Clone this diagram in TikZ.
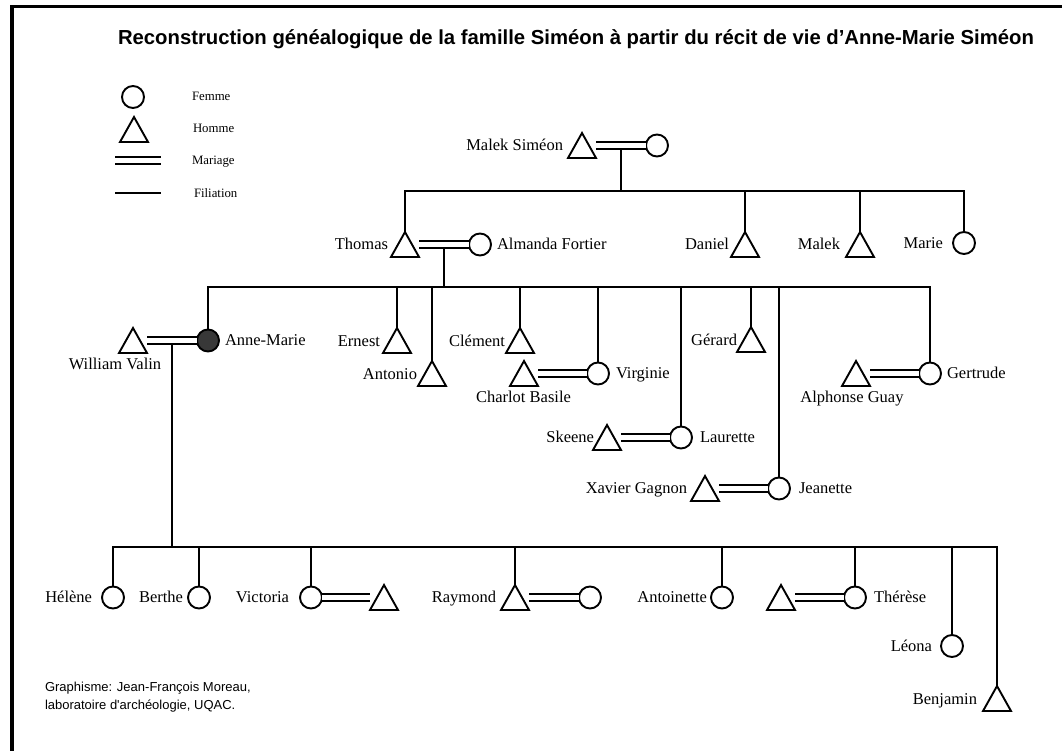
\documentclass[tikz,border=0pt]{standalone}
\usepackage{fontspec}
\setmainfont{Liberation Serif}
\newfontfamily\arialfont{Liberation Sans}
\usetikzlibrary{calc}
\begin{document}
\begin{tikzpicture}[x=1pt,y=-1pt,
  every node/.style={inner sep=0pt, outer sep=0pt},
  lab/.style={font=\fontsize{16.5}{18}\selectfont, text height=10.9pt, text depth=0pt},
  leg/.style={font=\fontsize{12.8}{14}\selectfont, text height=8.4pt, text depth=0pt, anchor=west},
  cred/.style={font=\arialfont\fontsize{13}{15}\selectfont, text height=9.4pt, text depth=0pt, anchor=west},
  fem/.style={circle, draw, line width=1.9pt, minimum size=22pt},
  ego/.style={fem, fill=black!78},
  hom/.style={rectangle, minimum width=28pt, minimum height=25pt},
  tri/.style={line width=1.9pt, line join=miter},
  mar/.style={double, double distance=5.1pt, line width=1.9pt},
  fil/.style={line width=1.9pt},
  frame/.style={line width=3.5pt, line join=miter}]
\useasboundingbox (0,0) rectangle (1064,751);
\fill[white] (0,0) rectangle (1064,751);
% frame
\coordinate (fa) at (12,751);
\coordinate (fb) at (12,6.5);
\coordinate (fc) at (1062,6.5);
\draw[frame] (fa) -- (fb) -- (fc);
% title
\node[anchor=base west, font=\arialfont\bfseries\fontsize{20.3}{24}\selectfont] (title) at (118,45)
  {Reconstruction généalogique de la famille Siméon à partir du récit de vie d’Anne-Marie Siméon};
% legend
\node[fem] (lgf) at (133,97) {};
\node[hom] (lgh) at (134,129.5) {};
\coordinate (lgm1) at (115,160.5);
\coordinate (lgm2) at (161,160.5);
\draw[mar] (lgm1) -- (lgm2);
\coordinate (lgf1) at (115,193);
\coordinate (lgf2) at (161,193);
\draw[fil] (lgf1) -- (lgf2);
\node[leg] (tf) at (192,96) {Femme};
\node[leg] (th) at (193,128) {Homme};
\node[leg] (tm) at (192,160) {Mariage};
\node[leg] (tfi) at (194,193) {Filiation};
% generation 0
\node[hom] (malek0) at (582,145.5) {};
\node[fem] (wife0) at (657,145.5) {};
\node[lab, anchor=east] (lmalek0) at (563,145) {Malek Siméon};
% generation 1
\node[hom] (thomas) at (405,244.5) {};
\node[fem] (almanda) at (480,244.5) {};
\node[hom] (daniel) at (745,244.5) {};
\node[hom] (malek1) at (860,244.5) {};
\node[fem] (marie) at (964,243) {};
\node[lab, anchor=east] (lthomas) at (388,244) {Thomas};
\node[lab, anchor=west] (lalmanda) at (497,244) {Almanda Fortier};
\node[lab, anchor=east] (ldaniel) at (729,244) {Daniel};
\node[lab, anchor=east] (lmalek1) at (840,244) {Malek};
\node[lab, anchor=east] (lmarie) at (943,243) {Marie};
% generation 2
\node[hom] (william) at (133,340.5) {};
\node[ego] (annemarie) at (208,340.5) {};
\node[hom] (ernest) at (397,340.5) {};
\node[hom] (antonio) at (432,373.5) {};
\node[hom] (clement) at (520,340.5) {};
\node[hom] (charlot) at (524,373.5) {};
\node[fem] (virginie) at (598,373.5) {};
\node[hom] (gerard) at (751,339.5) {};
\node[hom] (skeene) at (607,437.5) {};
\node[fem] (laurette) at (681,437.5) {};
\node[hom] (xavier) at (705,488.5) {};
\node[fem] (jeanette) at (779,488.5) {};
\node[hom] (alphonse) at (856,373.5) {};
\node[fem] (gertrude) at (930,373.5) {};
\node[lab, anchor=center] (lwilliam) at (115,364) {William Valin};
\node[lab, anchor=west] (lannemarie) at (225,340) {Anne-Marie};
\node[lab, anchor=east] (lernest) at (380,341) {Ernest};
\node[lab, anchor=east] (lantonio) at (417,374) {Antonio};
\node[lab, anchor=east] (lclement) at (505,341) {Clément};
\node[lab, anchor=center] (lcharlot) at (523.5,397) {Charlot Basile};
\node[lab, anchor=west] (lvirginie) at (616,373) {Virginie};
\node[lab, anchor=east] (lgerard) at (737,340) {Gérard};
\node[lab, anchor=east] (lskeene) at (594,437) {Skeene};
\node[lab, anchor=west] (llaurette) at (700,437) {Laurette};
\node[lab, anchor=east] (lxavier) at (687,488) {Xavier Gagnon};
\node[lab, anchor=west] (ljeanette) at (799,488) {Jeanette};
\node[lab, anchor=center] (lalphonse) at (852,397) {Alphonse Guay};
\node[lab, anchor=west] (lgertrude) at (947,373) {Gertrude};
% generation 3
\node[fem] (helene) at (113,597.5) {};
\node[fem] (berthe) at (199,597.5) {};
\node[fem] (victoria) at (311,597.5) {};
\node[hom] (vichus) at (384,597.5) {};
\node[hom] (raymond) at (515,597.5) {};
\node[fem] (raywife) at (590,597.5) {};
\node[fem] (antoinette) at (722,597.5) {};
\node[hom] (therhus) at (781,597.5) {};
\node[fem] (therese) at (855,597.5) {};
\node[fem] (leona) at (952,646) {};
\node[hom] (benjamin) at (997,698.5) {};
\node[lab, anchor=east] (lhelene) at (92,597) {Hélène};
\node[lab, anchor=east] (lberthe) at (183,597) {Berthe};
\node[lab, anchor=east] (lvictoria) at (289,597) {Victoria};
\node[lab, anchor=east] (lraymond) at (496,597) {Raymond};
\node[lab, anchor=east] (lantoinette) at (707,597) {Antoinette};
\node[lab, anchor=west] (ltherese) at (874,597) {Thérèse};
\node[lab, anchor=east] (lleona) at (932,646) {Léona};
\node[lab, anchor=east] (lbenjamin) at (977,699) {Benjamin};
% triangles
\foreach \n in {lgh,malek0,thomas,daniel,malek1,william,ernest,antonio,clement,charlot,gerard,skeene,xavier,alphonse,vichus,raymond,therhus,benjamin}
  \draw[tri] (\n.north) -- (\n.south east) -- (\n.south west) -- cycle;
% marriages
\draw[mar] (malek0.east) -- (wife0.west);
\draw[mar] (thomas.east) -- (almanda.west);
\draw[mar] (william.east) -- (annemarie.west);
\draw[mar] (charlot.east) -- (virginie.west);
\draw[mar] (skeene.east) -- (laurette.west);
\draw[mar] (xavier.east) -- (jeanette.west);
\draw[mar] (alphonse.east) -- (gertrude.west);
\draw[mar] (victoria.east) -- (vichus.west);
\draw[mar] (raymond.east) -- (raywife.west);
\draw[mar] (therhus.east) -- (therese.west);
% filiation gen 0 -> 1
\coordinate (c0) at ($(malek0.east)!0.5!(wife0.west)$);
\coordinate (b0) at (0,191);
\draw[fil] ([yshift=-3.5pt]c0) -- (c0 |- b0);
\draw[fil] (thomas.north) -- (thomas.north |- b0) -- (marie.north |- b0) -- (marie.north);
\draw[fil] (daniel.north) -- (daniel.north |- b0);
\draw[fil] (malek1.north) -- (malek1.north |- b0);
% filiation gen 1 -> 2
\coordinate (c1) at ($(thomas.east)!0.5!(almanda.west)$);
\coordinate (b1) at (0,287);
\draw[fil] ([yshift=-3.5pt]c1) -- (c1 |- b1);
\draw[fil] (annemarie.north) -- (annemarie.north |- b1) -- (gertrude.north |- b1) -- (gertrude.north);
\foreach \n in {ernest,antonio,clement,virginie,laurette,gerard,jeanette}
  \draw[fil] (\n.north) -- (\n.north |- b1);
% filiation gen 2 -> 3
\coordinate (c2) at ($(william.east)!0.5!(annemarie.west)$);
\coordinate (b2) at (0,547);
\draw[fil] ([yshift=-3.5pt]c2) -- (c2 |- b2);
\draw[fil] (helene.north) -- (helene.north |- b2) -- (benjamin.north |- b2) -- (benjamin.north);
\foreach \n in {berthe,victoria,raymond,antoinette,therese,leona}
  \draw[fil] (\n.north) -- (\n.north |- b2);
% credits
\node[cred] (cred1) at (45,687) {Graphisme: Jean-François Moreau,};
\node[cred] (cred2) at (45,705) {laboratoire d\textquotesingle archéologie, UQAC.};
\end{tikzpicture}
\end{document}
